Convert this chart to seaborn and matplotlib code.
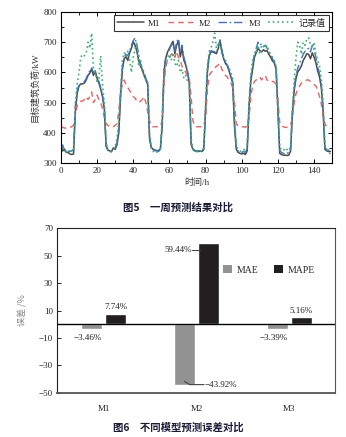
import numpy as np
import pandas as pd
import matplotlib
matplotlib.use("Agg")
import matplotlib.pyplot as plt
import seaborn as sns
from matplotlib.patches import Patch

# ---------------- data ----------------
hours = list(range(150))

m1 = [355, 340, 345, 335, 335, 330, 328, 330, 470, 530,
      555, 562, 562, 565, 575, 590, 598, 612, 590, 605,
      580, 565, 545, 520, 480, 355, 342, 340, 338, 350,
      345, 360, 400, 520, 610, 645, 652, 640, 665, 680,
      702, 690, 670, 640, 620, 610, 590, 575, 560, 380,
      352, 345, 342, 340, 342, 345, 420, 600, 648, 668,
      680, 692, 703, 662, 690, 705, 652, 680, 640, 625,
      600, 565, 362, 345, 340, 340, 338, 340, 338, 345,
      470, 600, 655, 668, 668, 665, 662, 680, 705, 668,
      645, 630, 622, 605, 585, 565, 420, 345, 335, 332,
      330, 332, 328, 340, 480, 570, 610, 650, 665, 680,
      672, 668, 675, 670, 672, 660, 650, 638, 632, 610,
      470, 332, 328, 326, 326, 325, 326, 340, 460, 540,
      580, 602, 610, 622, 640, 650, 662, 660, 645, 665,
      650, 632, 605, 585, 550, 470, 345, 340, 338, 338]

m2 = [420, 418, 416, 415, 415, 418, 420, 425, 460, 490,
      500, 505, 505, 510, 520, 510, 520, 535, 500, 510,
      525, 510, 500, 480, 450, 430, 425, 420, 418, 420,
      425, 430, 470, 530, 560, 575, 560, 550, 540, 530,
      520, 515, 505, 500, 505, 510, 520, 500, 470, 440,
      422, 420, 420, 420, 420, 422, 440, 560, 620, 640,
      650, 660, 665, 650, 670, 650, 640, 620, 610, 600,
      590, 580, 520, 440, 422, 420, 420, 420, 420, 425,
      450, 540, 590, 600, 605, 615, 620, 625, 630, 610,
      600, 590, 585, 575, 565, 550, 500, 430, 422, 420,
      420, 420, 418, 425, 445, 520, 555, 570, 575, 580,
      585, 575, 585, 590, 575, 570, 572, 570, 568, 560,
      510, 435, 422, 420, 418, 418, 420, 425, 450, 500,
      530, 545, 555, 565, 570, 572, 575, 575, 570, 565,
      560, 555, 540, 520, 495, 460, 430, 420, 418, 415]

m3 = [345, 360, 340, 345, 340, 338, 340, 345, 490, 540,
      560, 560, 568, 570, 580, 595, 605, 615, 600, 598,
      585, 570, 550, 525, 490, 360, 345, 342, 340, 345,
      350, 365, 410, 530, 620, 650, 660, 655, 670, 690,
      705, 715, 690, 660, 630, 615, 600, 580, 565, 390,
      350, 340, 345, 340, 338, 345, 430, 610, 650, 665,
      675, 690, 695, 670, 700, 712, 665, 690, 650, 630,
      605, 570, 370, 348, 342, 340, 340, 342, 340, 350,
      480, 610, 660, 672, 670, 668, 665, 685, 708, 675,
      650, 635, 625, 610, 590, 570, 430, 350, 340, 335,
      335, 338, 335, 348, 490, 580, 620, 660, 680, 700,
      690, 695, 685, 690, 680, 668, 660, 645, 635, 615,
      480, 340, 335, 332, 330, 332, 335, 345, 470, 550,
      590, 615, 630, 645, 660, 670, 675, 680, 668, 690,
      675, 650, 620, 595, 560, 480, 350, 345, 342, 345]

record = [335, 350, 345, 338, 335, 340, 338, 345, 500, 560,
          600, 650, 660, 655, 665, 700, 680, 730, 610, 600,
          570, 580, 655, 560, 500, 370, 340, 335, 338, 340,
          355, 380, 440, 545, 640, 665, 660, 670, 640, 600,
          650, 680, 700, 620, 640, 600, 590, 580, 570, 400,
          345, 338, 342, 336, 340, 345, 450, 590, 620, 650,
          660, 640, 665, 630, 620, 640, 600, 610, 580, 590,
          570, 560, 380, 345, 340, 338, 335, 340, 338, 350,
          500, 620, 670, 680, 700, 730, 680, 700, 690, 660,
          650, 640, 625, 615, 600, 580, 460, 355, 345, 340,
          338, 345, 340, 350, 500, 590, 640, 660, 670, 690,
          660, 690, 690, 680, 690, 670, 660, 650, 640, 620,
          500, 350, 345, 340, 350, 345, 340, 355, 480, 570,
          650, 700, 690, 660, 700, 690, 710, 715, 690, 680,
          700, 660, 640, 620, 580, 500, 360, 345, 335, 330]

models = ["M1", "M2", "M3"]
mae = [-3.46, -43.92, -3.39]
mape = [7.74, 59.44, 5.16]

# ---------------- style ----------------
sns.set_theme(style="ticks")
plt.rcParams["font.family"] = ["Liberation Serif", "Noto Sans CJK SC"]
plt.rcParams["axes.unicode_minus"] = True

fig = plt.figure(figsize=(3.46, 4.37), dpi=100)

# ---------------- top chart ----------------
ax1 = fig.add_axes([0.176, 0.627, 0.784, 0.3455])
series = [("M1", m1, "#4a4a4a", None, 1.1),
          ("M2", m2, "#f06060", (4, 3), 1.0),
          ("M3", m3, "#3d72c4", (6, 2, 1.2, 2), 1.0),
          ("记录值", record, "#3cb371", (1, 1.8), 1.2)]
for name, vals, col, dash, lw in series:
    df = pd.DataFrame({"h": hours, "v": vals})
    sns.lineplot(data=df, x="h", y="v", ax=ax1, color=col, lw=lw, label=name,
                 legend=False)
    line = ax1.lines[-1]
    if dash is not None:
        line.set_dashes(dash)

ax1.set_xlim(0, 150)
ax1.set_ylim(300, 800)
ax1.set_xticks(range(0, 150, 20))
ax1.set_xticks(range(0, 151, 10), minor=True)
ax1.set_yticks(range(300, 801, 100))
ax1.set_yticks(range(300, 801, 50), minor=True)
ax1.tick_params(which="both", direction="in", top=True, right=True,
                labelsize=6.5, color="black", pad=3)
ax1.tick_params(which="major", length=3, width=0.7)
ax1.tick_params(which="minor", length=2, width=0.6)
for s in ax1.spines.values():
    s.set_linewidth(0.8)
    s.set_color("black")
ax1.set_xlabel("时间/h", fontsize=6.5, color="#333333", labelpad=2)
ax1.set_ylabel("目标建筑负荷/kW", fontsize=6.5, color="#333333", labelpad=3)
leg = ax1.legend(handles=ax1.lines[:4], labels=[s[0] for s in series],
                 loc="upper right", bbox_to_anchor=(0.995, 0.99), ncol=4,
                 fontsize=6.5, frameon=True, fancybox=False, edgecolor="black",
                 handlelength=3.0, columnspacing=0.8, handletextpad=0.4,
                 borderpad=0.35, borderaxespad=0.2)
leg.get_frame().set_linewidth(0.8)

fig.text(0.515, 0.526, "图5　一周预测结果对比", ha="center", va="center",
         fontsize=7.5, fontweight="bold", color="#1c1c3a",
         family=["Noto Sans CJK SC", "DejaVu Sans"])

# ---------------- bottom chart ----------------
ax2 = fig.add_axes([0.165, 0.1007, 0.8035, 0.3775])
bdf = pd.DataFrame({"model": models * 2,
                    "metric": ["MAE"] * 3 + ["MAPE"] * 3,
                    "value": mae + mape})
pal = {"MAE": "#929292", "MAPE": "#231f20"}
sns.barplot(data=bdf, x="model", y="value", hue="metric", palette=pal,
            width=0.52, gap=0.13, ax=ax2, legend=False, saturation=1)
ax2.set_xlim(-0.505, 2.495)
ax2.set_ylim(-50, 70)
ax2.set_yticks([-50, -30, -10, 10, 30, 50, 70])
ax2.set_yticklabels(["−50", "−30", "−10", "10", "30", "50", "70"])
ax2.axhline(0, color="black", lw=1.0, zorder=3)
ax2.tick_params(axis="y", direction="in", length=3, width=0.7,
                labelsize=6.5, pad=3)
ax2.tick_params(axis="x", length=0, labelsize=6.5, pad=9)
ax2.set_xlabel("")
ax2.set_ylabel("误差 /%", fontsize=6.5, color="#888888", labelpad=8,
               family=["Noto Sans CJK SC", "DejaVu Sans"])
for k, s in ax2.spines.items():
    s.set_visible(True)
    s.set_linewidth(0.8)
    s.set_color("#222222")
ax2.spines["bottom"].set_linewidth(1.3)
ax2.spines["bottom"].set_color("#555555")
ax2.spines["right"].set_color("#555555")

# value labels
ax2.text(0.13, 7.74 + 4.5, "7.74%", ha="center", va="center", fontsize=6.5, color="#222222")
ax2.text(2.13, 5.16 + 4.5, "5.16%", ha="center", va="center", fontsize=6.5, color="#222222")
ax2.text(-0.17, -3.46 - 6.5, "−3.46%", ha="center", va="center", fontsize=6.5, color="#222222")
ax2.text(1.83, -3.39 - 6.5, "−3.39%", ha="center", va="center", fontsize=6.5, color="#222222")
# M2 labels with leader lines
ax2.plot([0.955, 1.04], [54.2, 54.2], color="#444444", lw=0.8)
ax2.text(0.95, 54.2, "59.44%", ha="right", va="center", fontsize=6.5, color="#222222")
ax2.plot([0.87, 0.925, 1.08], [-41.6, -43.9, -43.9], color="#444444", lw=0.8)
ax2.text(1.09, -43.9, "−43.92%", ha="left", va="center", fontsize=6.5, color="#222222")

handles = [Patch(facecolor=pal["MAE"], edgecolor="none", label="MAE"),
           Patch(facecolor=pal["MAPE"], edgecolor="none", label="MAPE")]
ax2.legend(handles=handles, loc="center left", bbox_to_anchor=(0.565, 0.745),
           ncol=2, frameon=False, fontsize=7, handlelength=0.9, handleheight=0.9,
           handletextpad=0.5, columnspacing=1.6)

fig.text(0.515, 0.021, "图6　不同模型预测误差对比", ha="center", va="center",
         fontsize=7.5, fontweight="bold", color="#1c1c3a",
         family=["Noto Sans CJK SC", "DejaVu Sans"])

fig.savefig("out.png", dpi=100)
